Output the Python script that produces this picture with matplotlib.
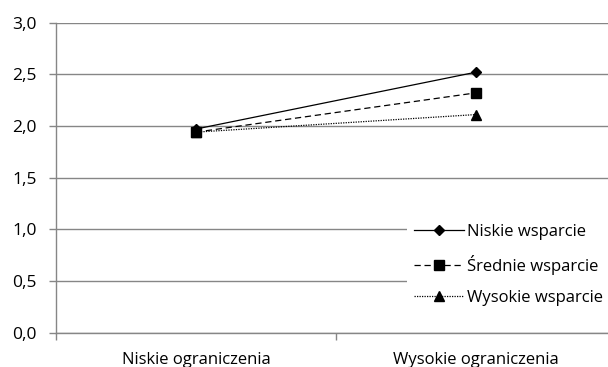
import matplotlib
matplotlib.use("Agg")
from matplotlib import pyplot as plt

matplotlib.rcParams.update({
    'font.family': ['Open Sans', 'DejaVu Sans'],
    'font.size': 12,
})

categories = ['Niskie ograniczenia', 'Wysokie ograniczenia']
niskie = [1.97, 2.52]
srednie = [1.94, 2.32]
wysokie = [1.94, 2.11]
series_names = ['Niskie wsparcie', 'Średnie wsparcie', 'Wysokie wsparcie']
y_ticks = [0.0, 0.5, 1.0, 1.5, 2.0, 2.5, 3.0]

fig = plt.figure(figsize=(6.08, 3.67), dpi=100)
ax = fig.add_axes([0.092, 0.0935, 0.921, 0.845])

x = list(range(len(categories)))
ax.plot(x, niskie, color='black', lw=0.9, ls='-', marker='D', ms=5.5, label=series_names[0], zorder=5)
ax.plot(x, srednie, color='black', lw=0.9, ls=(0, (5, 3)), marker='s', ms=6.5, label=series_names[1], zorder=4)
ax.plot(x, wysokie, color='black', lw=0.9, ls=(0, (1, 1)), marker='^', ms=7, label=series_names[2], zorder=3)

ax.set_xlim(-0.5, len(categories) - 0.5)
ax.set_ylim(0, 3.0)
ax.set_yticks(y_ticks)
ax.set_yticklabels([f"{v:.1f}".replace('.', ',') for v in y_ticks], fontsize=12.5)
ax.set_xticks(x)
ax.set_xticklabels(categories, fontsize=12)
ax.set_xticks([i - 0.5 for i in range(len(categories) + 1)], minor=True)
ax.tick_params(axis='x', which='major', length=0, pad=14)
ax.tick_params(axis='x', which='minor', length=5, color='#868686', width=1)
ax.tick_params(axis='y', length=5, color='#868686', width=1, pad=9)

ax.grid(axis='y', color='#868686', lw=1)
ax.set_axisbelow(True)
for s in ['top', 'right']:
    ax.spines[s].set_visible(False)
for s in ['left', 'bottom']:
    ax.spines[s].set_color('#868686')
    ax.spines[s].set_linewidth(1)

leg = ax.legend(loc='upper left', bbox_to_anchor=(0.612, 0.40), frameon=True,
                facecolor='white', edgecolor='none', framealpha=1, fancybox=False,
                handlelength=3.0, handletextpad=0.2, labelspacing=0.9,
                borderpad=0.4, fontsize=12)

fig.savefig('out.png', dpi=100)
